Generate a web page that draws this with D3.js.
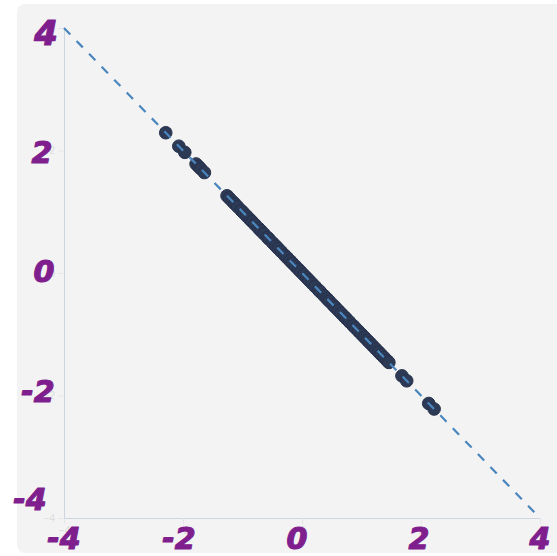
<!DOCTYPE html>
<html>
<head>
<meta charset="utf-8">
<script src="https://cdn.jsdelivr.net/npm/d3@7"></script>
<style>
  html, body { margin: 0; padding: 0; background: #ffffff; }
  svg { display: block; }
</style>
</head>
<body>
<svg id="chart" width="557" height="556"></svg>
<script>
// ---- data ----
const xDomain = [-4, 4];
const yDomain = [-4, 4];
const tickValues = [-4, -2, 0, 2, 4];
const tickLabels = ["-4", "-2", "0", "2", "4"];

const pointX = [
  -2.29, -2.07, -1.97, -1.78, -1.74, -1.70, -1.64,
  -1.26, -1.22, -1.17, -1.13, -1.08, -1.02, -0.98, -0.93, -0.88, -0.84,
  -0.79, -0.73, -0.69, -0.64, -0.58, -0.55, -0.49, -0.44, -0.40, -0.35,
  -0.29, -0.25, -0.20, -0.16, -0.11, -0.06, -0.02, 0.03, 0.08, 0.12,
  0.17, 0.22, 0.28, 0.31, 0.37, 0.42, 0.46, 0.52, 0.56, 0.61,
  0.66, 0.71, 0.75, 0.80, 0.86, 0.90, 0.95, 1.00, 1.05, 1.10,
  1.14, 1.19, 1.24, 1.29, 1.33, 1.38, 1.43, 1.46,
  1.68, 1.76, 2.13, 2.22
];
const pointY = [
  2.29, 2.07, 1.97, 1.78, 1.74, 1.70, 1.64,
  1.26, 1.22, 1.17, 1.13, 1.08, 1.02, 0.98, 0.93, 0.88, 0.84,
  0.79, 0.73, 0.69, 0.64, 0.58, 0.55, 0.49, 0.44, 0.40, 0.35,
  0.29, 0.25, 0.20, 0.16, 0.11, 0.06, 0.02, -0.03, -0.08, -0.12,
  -0.17, -0.22, -0.28, -0.31, -0.37, -0.42, -0.46, -0.52, -0.56, -0.61,
  -0.66, -0.71, -0.75, -0.80, -0.86, -0.90, -0.95, -1.00, -1.05, -1.10,
  -1.14, -1.19, -1.24, -1.29, -1.33, -1.38, -1.43, -1.46,
  -1.68, -1.76, -2.13, -2.22
];
const refLineX = [-4, 4];
const refLineY = [4, -4];

// ---- chart ----
const svg = d3.select("#chart");
const W = 557;

svg.append("rect")
  .attr("x", 17).attr("y", 4)
  .attr("width", W - 17 + 6).attr("height", 549)
  .attr("rx", 8).attr("ry", 8)
  .attr("fill", "#f3f3f4");

const x = d3.scaleLinear().domain(xDomain).range([64, 540]);
const y = d3.scaleLinear().domain(yDomain).range([518, 28]);

// axes (faint)
const gx = svg.append("g").attr("transform", `translate(0,${y(-4)})`)
  .call(d3.axisBottom(x).tickValues(tickValues).tickSize(6).tickSizeOuter(0).tickPadding(3));
const gy = svg.append("g").attr("transform", `translate(${x(-4)},0)`)
  .call(d3.axisLeft(y).tickValues(tickValues).tickSize(6).tickSizeOuter(0).tickPadding(3));
[gx, gy].forEach(g => {
  g.select(".domain").attr("stroke", "#cdd5de").attr("stroke-width", 1);
  g.selectAll(".tick line").attr("stroke", "#e4e7ea");
  g.selectAll(".tick text").attr("fill", "#dcdcdc").attr("font-size", 10)
    .attr("font-family", "Liberation Sans, Arial, sans-serif");
});

// points
const pts = pointX.map((v, i) => ({ x: v, y: pointY[i] }));
svg.append("g").selectAll("circle").data(pts).join("circle")
  .attr("cx", d => x(d.x)).attr("cy", d => y(d.y))
  .attr("r", 6.3)
  .attr("fill", "#2d3a56")
  .attr("stroke", "#27304a")
  .attr("stroke-width", 1);

// dashed reference line
svg.append("line")
  .attr("x1", x(refLineX[0])).attr("y1", y(refLineY[0]))
  .attr("x2", x(refLineX[1])).attr("y2", y(refLineY[1]))
  .attr("stroke", "#4a86bd").attr("stroke-width", 2.2)
  .attr("stroke-dasharray", "9,9");

// handwritten-style labels
const hand = "#7f1f8e";
const fontFam = "DejaVu Sans, sans-serif";
const xOffsets = { "-4": 0, "-2": -4, "0": -5, "2": -2, "4": 0 };
svg.append("g").selectAll("text").data(tickValues).join("text")
  .attr("x", d => x(d) + xOffsets[String(d)])
  .attr("y", 549)
  .attr("text-anchor", "middle")
  .attr("font-family", fontFam)
  .attr("font-weight", "bold")
  .attr("font-style", "italic")
  .attr("font-size", 30)
  .attr("fill", hand)
  .attr("stroke", hand).attr("stroke-width", 1.2).attr("stroke-linejoin", "round")
  .text((d, i) => tickLabels[i]);

const yPos = { "4": [46, 45], "2": [42, 163], "0": [44, 282], "-2": [38, 402], "-4": [30, 510] };
svg.append("g").selectAll("text").data(tickValues).join("text")
  .attr("x", d => yPos[String(d)][0])
  .attr("y", d => yPos[String(d)][1])
  .attr("text-anchor", "middle")
  .attr("font-family", fontFam)
  .attr("font-weight", "bold")
  .attr("font-style", "italic")
  .attr("font-size", d => d === 4 ? 34 : 30)
  .attr("fill", hand)
  .attr("stroke", hand).attr("stroke-width", 1.2).attr("stroke-linejoin", "round")
  .text((d, i) => tickLabels[i]);
</script>
</body>
</html>
